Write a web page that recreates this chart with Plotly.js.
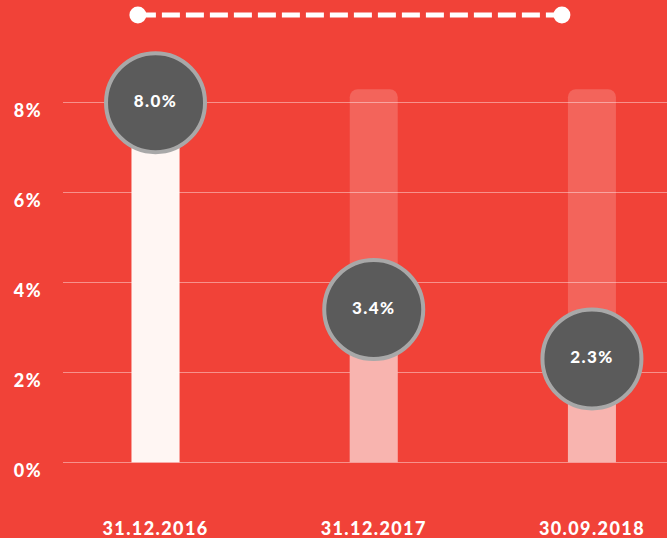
<!DOCTYPE html>
<html>
<head>
<meta charset="utf-8">
<script src="https://cdn.plot.ly/plotly-3.0.1.min.js"></script>
<style>
  html, body { margin: 0; padding: 0; background: #f14238; }
  #chart { width: 667px; height: 538px; }
  #chart text { letter-spacing: 1.4px; }
</style>
</head>
<body>
<div id="chart"></div>
<script>
const categories = ['31.12.2016', '31.12.2017', '30.09.2018'];
const rates = [8.0, 3.4, 2.3];
const rateLabels = ['8.0%', '3.4%', '2.3%'];
const scaleMax = [8.3, 8.3, 8.3];
const yTickVals = [0, 2, 4, 6, 8];
const yTickText = ['0%', '2%', '4%', '6%', '8%'];

const RED = '#f14238';
const barColors = ['#fff6f3', '#f8b4af', '#f8b4af'];

const traces = [
  {
    type: 'bar', x: categories, y: scaleMax, width: 0.22,
    marker: { color: 'rgba(255,255,255,0.18)', cornerradius: 8, line: { width: 0 } },
    hoverinfo: 'skip'
  },
  {
    type: 'bar', x: categories, y: rates, width: 0.22,
    marker: { color: barColors, cornerradius: 8, line: { width: 0 } },
    hoverinfo: 'skip'
  },
  {
    type: 'scatter', mode: 'markers+text', x: categories, y: rates,
    text: rateLabels, textposition: 'middle center', cliponaxis: false,
    marker: { size: 99, color: '#5b5b5b', line: { color: '#a8a8a8', width: 4 } },
    textfont: { family: 'Lato, sans-serif', size: 17, color: '#ffffff', weight: 900 },
    hoverinfo: 'skip'
  }
];

const lineY = 1.1047, lx0 = 0.124, lx1 = 0.826;
const layout = {
  width: 667, height: 538,
  margin: { l: 63, r: 0, t: 60, b: 48 },
  paper_bgcolor: RED, plot_bgcolor: RED,
  barmode: 'overlay', showlegend: false,
  font: { family: 'Lato, sans-serif', color: '#ffffff' },
  xaxis: {
    type: 'category', range: [-0.424, 2.344], showgrid: false, zeroline: false,
    showline: false, ticks: '', ticklabelstandoff: 26,
    tickfont: { size: 18, color: '#ffffff', weight: 900 }
  },
  yaxis: {
    range: [-0.616, 8.95], tickvals: yTickVals, ticktext: yTickText,
    showgrid: true, gridcolor: 'rgba(255,255,255,0.42)', gridwidth: 1.5,
    zeroline: false, showline: false, ticks: '',
    ticklabelposition: 'outside', ticklabelshift: 8, ticklabelstandoff: 20,
    tickfont: { size: 18, color: '#ffffff', weight: 900 }
  },
  shapes: [
    { type: 'line', xref: 'paper', yref: 'paper', x0: lx0, x1: lx1, y0: lineY, y1: lineY,
      line: { color: '#ffffff', width: 5, dash: '18px,6px' } },
    { type: 'circle', xref: 'paper', yref: 'paper', xsizemode: 'pixel', ysizemode: 'pixel',
      xanchor: lx0, yanchor: lineY, x0: -8.5, x1: 8.5, y0: -8.5, y1: 8.5,
      fillcolor: '#ffffff', line: { width: 0 } },
    { type: 'circle', xref: 'paper', yref: 'paper', xsizemode: 'pixel', ysizemode: 'pixel',
      xanchor: lx1, yanchor: lineY, x0: -8.5, x1: 8.5, y0: -8.5, y1: 8.5,
      fillcolor: '#ffffff', line: { width: 0 } }
  ]
};

Plotly.newPlot('chart', traces, layout, { displayModeBar: false, staticPlot: true });
</script>
</body>
</html>
